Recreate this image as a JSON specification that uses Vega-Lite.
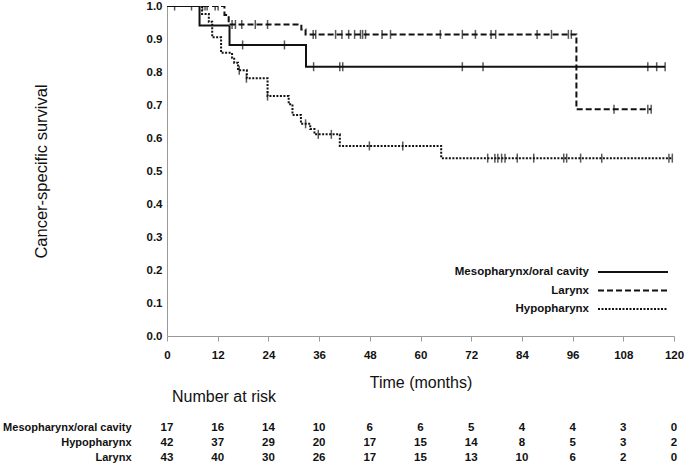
{
  "$schema": "https://vega.github.io/schema/vega-lite/v6.json",
  "padding": {"left": 2, "top": 0, "right": 0, "bottom": 0},
  "background": "white",
  "config": {
    "view": {"stroke": null},
    "font": "Liberation Sans",
    "axis": {"grid": false, "labelOverlap": false}
  },
  "datasets": {
    "curves": [
      {"group": "Mesopharynx/oral cavity", "t": 0, "S": 1},
      {"group": "Mesopharynx/oral cavity", "t": 7.7, "S": 0.941},
      {"group": "Mesopharynx/oral cavity", "t": 14.8, "S": 0.882},
      {"group": "Mesopharynx/oral cavity", "t": 32.9, "S": 0.816},
      {"group": "Mesopharynx/oral cavity", "t": 117.9, "S": 0.816},
      {"group": "Larynx", "t": 0, "S": 1},
      {"group": "Larynx", "t": 13.6, "S": 0.973},
      {"group": "Larynx", "t": 14.6, "S": 0.944},
      {"group": "Larynx", "t": 31.8, "S": 0.929},
      {"group": "Larynx", "t": 32.8, "S": 0.914},
      {"group": "Larynx", "t": 96.9, "S": 0.687},
      {"group": "Larynx", "t": 114.6, "S": 0.687},
      {"group": "Hypopharynx", "t": 0, "S": 1},
      {"group": "Hypopharynx", "t": 8.3, "S": 0.976},
      {"group": "Hypopharynx", "t": 9.9, "S": 0.952},
      {"group": "Hypopharynx", "t": 10.7, "S": 0.905},
      {"group": "Hypopharynx", "t": 12.8, "S": 0.858},
      {"group": "Hypopharynx", "t": 15.4, "S": 0.843},
      {"group": "Hypopharynx", "t": 15.9, "S": 0.828},
      {"group": "Hypopharynx", "t": 16.8, "S": 0.805},
      {"group": "Hypopharynx", "t": 18.9, "S": 0.781},
      {"group": "Hypopharynx", "t": 23.8, "S": 0.727},
      {"group": "Hypopharynx", "t": 28.8, "S": 0.702},
      {"group": "Hypopharynx", "t": 29.7, "S": 0.67},
      {"group": "Hypopharynx", "t": 31.7, "S": 0.643},
      {"group": "Hypopharynx", "t": 33.9, "S": 0.627},
      {"group": "Hypopharynx", "t": 34.9, "S": 0.611},
      {"group": "Hypopharynx", "t": 40.9, "S": 0.576},
      {"group": "Hypopharynx", "t": 64.9, "S": 0.539},
      {"group": "Hypopharynx", "t": 119.6, "S": 0.539}
    ],
    "censors": [
      {"group": "Mesopharynx/oral cavity", "t": 17.9, "S": 0.882},
      {"group": "Mesopharynx/oral cavity", "t": 27.8, "S": 0.882},
      {"group": "Mesopharynx/oral cavity", "t": 34.7, "S": 0.816},
      {"group": "Mesopharynx/oral cavity", "t": 40.9, "S": 0.816},
      {"group": "Mesopharynx/oral cavity", "t": 41.6, "S": 0.816},
      {"group": "Mesopharynx/oral cavity", "t": 69.9, "S": 0.816},
      {"group": "Mesopharynx/oral cavity", "t": 74.8, "S": 0.816},
      {"group": "Mesopharynx/oral cavity", "t": 113.8, "S": 0.816},
      {"group": "Mesopharynx/oral cavity", "t": 115.9, "S": 0.816},
      {"group": "Mesopharynx/oral cavity", "t": 117.9, "S": 0.816},
      {"group": "Larynx", "t": 5.8, "S": 1},
      {"group": "Larynx", "t": 8.4, "S": 1},
      {"group": "Larynx", "t": 9.0, "S": 1},
      {"group": "Larynx", "t": 9.5, "S": 1},
      {"group": "Larynx", "t": 11.4, "S": 1},
      {"group": "Larynx", "t": 12.1, "S": 1},
      {"group": "Larynx", "t": 15.4, "S": 0.944},
      {"group": "Larynx", "t": 16.2, "S": 0.944},
      {"group": "Larynx", "t": 17.7, "S": 0.944},
      {"group": "Larynx", "t": 20.9, "S": 0.944},
      {"group": "Larynx", "t": 23.8, "S": 0.944},
      {"group": "Larynx", "t": 34.6, "S": 0.914},
      {"group": "Larynx", "t": 35.2, "S": 0.914},
      {"group": "Larynx", "t": 39.9, "S": 0.914},
      {"group": "Larynx", "t": 41.4, "S": 0.914},
      {"group": "Larynx", "t": 43.0, "S": 0.914},
      {"group": "Larynx", "t": 44.4, "S": 0.914},
      {"group": "Larynx", "t": 45.8, "S": 0.914},
      {"group": "Larynx", "t": 46.3, "S": 0.914},
      {"group": "Larynx", "t": 47.0, "S": 0.914},
      {"group": "Larynx", "t": 50.9, "S": 0.914},
      {"group": "Larynx", "t": 52.9, "S": 0.914},
      {"group": "Larynx", "t": 64.7, "S": 0.914},
      {"group": "Larynx", "t": 69.9, "S": 0.914},
      {"group": "Larynx", "t": 73.0, "S": 0.914},
      {"group": "Larynx", "t": 76.7, "S": 0.914},
      {"group": "Larynx", "t": 77.8, "S": 0.914},
      {"group": "Larynx", "t": 87.6, "S": 0.914},
      {"group": "Larynx", "t": 91.0, "S": 0.914},
      {"group": "Larynx", "t": 95.0, "S": 0.914},
      {"group": "Larynx", "t": 95.7, "S": 0.914},
      {"group": "Larynx", "t": 105.8, "S": 0.687},
      {"group": "Larynx", "t": 113.8, "S": 0.687},
      {"group": "Larynx", "t": 114.6, "S": 0.687},
      {"group": "Hypopharynx", "t": 1.8, "S": 1},
      {"group": "Hypopharynx", "t": 17.1, "S": 0.805},
      {"group": "Hypopharynx", "t": 18.8, "S": 0.781},
      {"group": "Hypopharynx", "t": 23.8, "S": 0.727},
      {"group": "Hypopharynx", "t": 32.8, "S": 0.643},
      {"group": "Hypopharynx", "t": 35.8, "S": 0.611},
      {"group": "Hypopharynx", "t": 38.9, "S": 0.611},
      {"group": "Hypopharynx", "t": 47.9, "S": 0.576},
      {"group": "Hypopharynx", "t": 55.8, "S": 0.576},
      {"group": "Hypopharynx", "t": 75.9, "S": 0.539},
      {"group": "Hypopharynx", "t": 77.6, "S": 0.539},
      {"group": "Hypopharynx", "t": 78.3, "S": 0.539},
      {"group": "Hypopharynx", "t": 79.2, "S": 0.539},
      {"group": "Hypopharynx", "t": 80.0, "S": 0.539},
      {"group": "Hypopharynx", "t": 82.9, "S": 0.539},
      {"group": "Hypopharynx", "t": 86.8, "S": 0.539},
      {"group": "Hypopharynx", "t": 93.9, "S": 0.539},
      {"group": "Hypopharynx", "t": 94.6, "S": 0.539},
      {"group": "Hypopharynx", "t": 97.9, "S": 0.539},
      {"group": "Hypopharynx", "t": 102.9, "S": 0.539},
      {"group": "Hypopharynx", "t": 118.8, "S": 0.539},
      {"group": "Hypopharynx", "t": 119.6, "S": 0.539}
    ],
    "risk": [
      {"group": "Mesopharynx/oral cavity", "t": 0, "n": 17},
      {"group": "Mesopharynx/oral cavity", "t": 12, "n": 16},
      {"group": "Mesopharynx/oral cavity", "t": 24, "n": 14},
      {"group": "Mesopharynx/oral cavity", "t": 36, "n": 10},
      {"group": "Mesopharynx/oral cavity", "t": 48, "n": 6},
      {"group": "Mesopharynx/oral cavity", "t": 60, "n": 6},
      {"group": "Mesopharynx/oral cavity", "t": 72, "n": 5},
      {"group": "Mesopharynx/oral cavity", "t": 84, "n": 4},
      {"group": "Mesopharynx/oral cavity", "t": 96, "n": 4},
      {"group": "Mesopharynx/oral cavity", "t": 108, "n": 3},
      {"group": "Mesopharynx/oral cavity", "t": 120, "n": 0},
      {"group": "Hypopharynx", "t": 0, "n": 42},
      {"group": "Hypopharynx", "t": 12, "n": 37},
      {"group": "Hypopharynx", "t": 24, "n": 29},
      {"group": "Hypopharynx", "t": 36, "n": 20},
      {"group": "Hypopharynx", "t": 48, "n": 17},
      {"group": "Hypopharynx", "t": 60, "n": 15},
      {"group": "Hypopharynx", "t": 72, "n": 14},
      {"group": "Hypopharynx", "t": 84, "n": 8},
      {"group": "Hypopharynx", "t": 96, "n": 5},
      {"group": "Hypopharynx", "t": 108, "n": 3},
      {"group": "Hypopharynx", "t": 120, "n": 2},
      {"group": "Larynx", "t": 0, "n": 43},
      {"group": "Larynx", "t": 12, "n": 40},
      {"group": "Larynx", "t": 24, "n": 30},
      {"group": "Larynx", "t": 36, "n": 26},
      {"group": "Larynx", "t": 48, "n": 17},
      {"group": "Larynx", "t": 60, "n": 15},
      {"group": "Larynx", "t": 72, "n": 13},
      {"group": "Larynx", "t": 84, "n": 10},
      {"group": "Larynx", "t": 96, "n": 6},
      {"group": "Larynx", "t": 108, "n": 2},
      {"group": "Larynx", "t": 120, "n": 0}
    ]
  },
  "bounds": "flush",
  "spacing": 84,
  "resolve": {"scale": {"strokeDash": "independent"}, "legend": {"strokeDash": "independent"}},
  "vconcat": [
    {
      "width": 507,
      "height": 330,
      "layer": [
        {
          "data": {"name": "curves"},
          "mark": {"type": "line", "interpolate": "step-after", "color": "#111", "strokeWidth": 2, "clip": true},
          "encoding": {
            "x": {
              "field": "t", "type": "quantitative",
              "scale": {"domain": [0, 120], "nice": false},
              "axis": {
                "values": [0, 12, 24, 36, 48, 60, 72, 84, 96, 108, 120],
                "tickCount": 11,
                "title": "Time (months)",
                "titleFontSize": 16, "titleFontWeight": "normal", "titleColor": "#111", "titlePadding": 14,
                "labelFontSize": 11.5, "labelFontWeight": "bold", "labelColor": "#111", "labelPadding": 8,
                "labelOverlap": false,
                "tickSize": 5, "tickColor": "#999", "domainColor": "#999", "labelFlush": false
              }
            },
            "y": {
              "field": "S", "type": "quantitative",
              "scale": {"domain": [0, 1], "nice": false},
              "axis": {
                "values": [0, 0.1, 0.2, 0.3, 0.4, 0.5, 0.6, 0.7, 0.8, 0.9, 1.0],
                "tickCount": 11,
                "format": ".1f",
                "title": "Cancer-specific survival",
                "titleFontSize": 16.5, "titleFontWeight": "normal", "titleColor": "#111", "titlePadding": 97,
                "labelFontSize": 11.5, "labelFontWeight": "bold", "labelColor": "#111", "labelPadding": 5,
                "labelOverlap": false,
                "ticks": false, "domainColor": "#999", "labelFlush": false
              }
            },
            "strokeDash": {
              "field": "group", "type": "nominal",
              "scale": {
                "domain": ["Mesopharynx/oral cavity", "Larynx", "Hypopharynx"],
                "range": [[1, 0], [6, 3], [2, 1.5]]
              },
              "legend": {
                "orient": "none", "legendX": 458, "legendY": 258,
                "title": null, "padding": 0,
                "symbolType": "M-5,0L5,0", "symbolSize": 196, "symbolStrokeWidth": 2, "symbolStrokeColor": "#111",
                "labelAlign": "right", "labelOffset": -52,
                "labelFontSize": 11.5, "labelFontWeight": "bold", "labelColor": "#111",
                "rowPadding": 4.5
              }
            },
            "detail": {"field": "group"}
          }
        },
        {
          "data": {"name": "censors"},
          "mark": {"type": "tick", "orient": "vertical", "size": 9, "thickness": 1.5, "color": "#111", "clip": true},
          "encoding": {
            "x": {"field": "t", "type": "quantitative"},
            "y": {"field": "S", "type": "quantitative"}
          }
        }
      ]
    },
    {
      "width": 507,
      "height": 45,
      "title": {"text": "Number at risk", "anchor": "start", "frame": "group", "dx": 5, "offset": 15, "fontSize": 16, "fontWeight": "normal", "color": "#111"},
      "data": {"name": "risk"},
      "mark": {"type": "text", "fontSize": 11.5, "fontWeight": "bold", "color": "#111"},
      "encoding": {
        "x": {"field": "t", "type": "quantitative", "scale": {"domain": [0, 120], "nice": false}, "axis": null},
        "y": {
          "field": "group", "type": "nominal",
          "sort": ["Mesopharynx/oral cavity", "Hypopharynx", "Larynx"],
          "axis": {"title": null, "ticks": false, "domain": false, "labelFontSize": 11, "labelFontWeight": "bold", "labelColor": "#111", "labelPadding": 36}
        },
        "text": {"field": "n", "type": "quantitative"}
      }
    }
  ]
}
